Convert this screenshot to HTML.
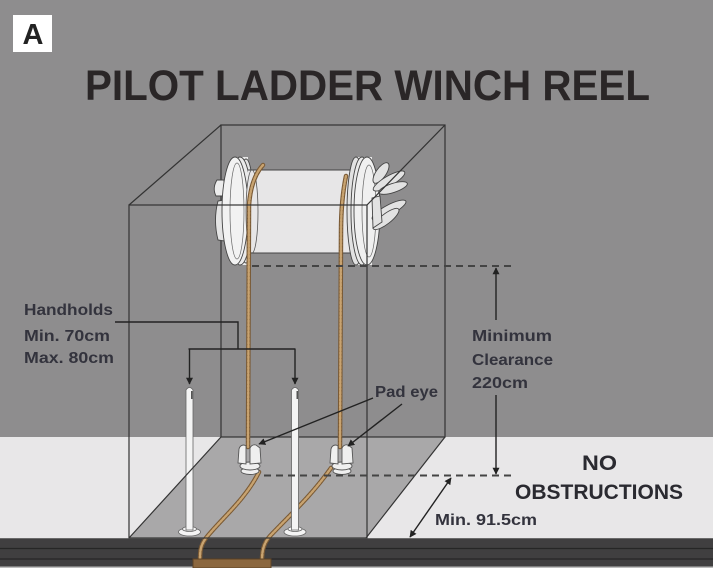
<!DOCTYPE html>
<html>
<head>
<meta charset="utf-8">
<style>
  html,body{margin:0;padding:0;background:#8e8d8e;}
  svg{display:block;}
  text{font-family:"Liberation Sans",sans-serif;}
</style>
</head>
<body>
<svg width="713" height="568" viewBox="0 0 713 568" xmlns="http://www.w3.org/2000/svg">
  <defs>
    <marker id="ah" viewBox="0 0 10 10" refX="9" refY="5" markerWidth="7" markerHeight="7" orient="auto-start-reverse" markerUnits="userSpaceOnUse">
      <path d="M0,0 L10,5 L0,10 Z" fill="#222"/>
    </marker>
  </defs>

  <rect x="0" y="0" width="713" height="568" fill="#8e8d8e"/>
  <rect x="0" y="437" width="713" height="101" fill="#e8e7e8"/>
  <polygon points="221,437 445,437 366,538 129,538" fill="#a9a8a9"/>
  <rect x="0" y="538" width="713" height="30" fill="#403f40"/>
  <line x1="0" y1="538.5" x2="713" y2="538.5" stroke="#6a6a6a" stroke-width="1"/>
  <line x1="0" y1="548.5" x2="713" y2="548.5" stroke="#262626" stroke-width="1.2"/>
  <line x1="0" y1="559" x2="713" y2="559" stroke="#262626" stroke-width="1.2"/>
  <rect x="0" y="566.5" width="713" height="1.5" fill="#bdbdbd"/>

  <rect x="221" y="125" width="224" height="312" fill="none" stroke="#333" stroke-width="1.2"/>

  <rect x="13" y="15" width="39" height="37" fill="#ffffff"/>
  <text x="33" y="44" font-size="29" font-weight="bold" fill="#222" text-anchor="middle">A</text>

  <text x="85" y="100" font-size="43" font-weight="bold" fill="#2a2627" textLength="565" lengthAdjust="spacingAndGlyphs">PILOT LADDER WINCH REEL</text>

  <!-- REEL -->
  <path d="M224,180 L217,180 Q212,188 216,196 L224,196 Z" fill="#ececec" stroke="#444" stroke-width="0.9"/>
  <path d="M224,200 L218,201 Q213,220 218,240 L224,241 Z" fill="#e4e4e4" stroke="#444" stroke-width="0.9"/>
  <rect x="234" y="157" width="14" height="108" fill="#e9e9e9"/>
  <ellipse cx="246" cy="211" rx="8" ry="52" fill="#e2e2e2" stroke="#444" stroke-width="0.9"/>
  <ellipse cx="240" cy="211" rx="12" ry="54" fill="#eaeaea" stroke="#444" stroke-width="0.9"/>
  <ellipse cx="235" cy="211" rx="13" ry="54" fill="#f2f2f2" stroke="#444" stroke-width="0.9"/>
  <ellipse cx="237" cy="211" rx="7" ry="48" fill="none" stroke="#666" stroke-width="0.7"/>
  <rect x="248" y="170" width="104" height="83" fill="#e7e6e7"/>
  <line x1="248" y1="170" x2="352" y2="170" stroke="#444" stroke-width="1"/>
  <line x1="248" y1="253" x2="352" y2="253" stroke="#444" stroke-width="1"/>
  <ellipse cx="252" cy="211.5" rx="6" ry="41.5" fill="#e7e6e7" stroke="#555" stroke-width="0.8"/>
  <rect x="354" y="157" width="18" height="108" fill="#e9e9e9"/>
  <ellipse cx="356" cy="211" rx="9" ry="54" fill="#e2e2e2" stroke="#444" stroke-width="0.9"/>
  <ellipse cx="362" cy="211" rx="11" ry="54" fill="#eaeaea" stroke="#444" stroke-width="0.9"/>
  <ellipse cx="367" cy="211" rx="13" ry="54" fill="#f0f0f0" stroke="#444" stroke-width="0.9"/>
  <ellipse cx="369" cy="211" rx="7" ry="46" fill="none" stroke="#666" stroke-width="0.7"/>
  <g fill="#e2e2e2" stroke="#444" stroke-width="0.9">
    <ellipse cx="381" cy="173" rx="12" ry="5" transform="rotate(-55 381 173)"/>
    <ellipse cx="389" cy="181" rx="18" ry="5" transform="rotate(-30 389 181)"/>
    <ellipse cx="393" cy="188" rx="15" ry="4.5" transform="rotate(-18 393 188)"/>
    <ellipse cx="389" cy="210" rx="19" ry="5" transform="rotate(-28 389 210)"/>
    <ellipse cx="386" cy="219" rx="16" ry="5" transform="rotate(-38 386 219)"/>
    <path d="M372,198 L380,196 L382,222 L373,228 Z"/>
  </g>

  <g fill="none" stroke-linecap="round">
    <path d="M263,165 Q251,178 249,205 L248,447" stroke="#7a5a35" stroke-width="4.5"/>
    <path d="M263,165 Q251,178 249,205 L248,447" stroke="#c8a370" stroke-width="2.4" stroke-dasharray="2 1.6"/>
    <path d="M346,176 Q341,200 341,232 L340,447" stroke="#7a5a35" stroke-width="4.5"/>
    <path d="M346,176 Q341,200 341,232 L340,447" stroke="#c8a370" stroke-width="2.4" stroke-dasharray="2 1.6"/>
    <path d="M259,472 C245,500 222,518 206,538 C200,546 200,552 200,561" stroke="#7a5a35" stroke-width="4.5"/>
    <path d="M259,472 C245,500 222,518 206,538 C200,546 200,552 200,561" stroke="#c8a370" stroke-width="2.4" stroke-dasharray="2 1.6"/>
    <path d="M331,468 C312,495 290,515 270,536 C263,544 262,552 262,561" stroke="#7a5a35" stroke-width="4.5"/>
    <path d="M331,468 C312,495 290,515 270,536 C263,544 262,552 262,561" stroke="#c8a370" stroke-width="2.4" stroke-dasharray="2 1.6"/>
  </g>
  <rect x="193" y="559" width="78" height="9" fill="#8b673f" stroke="#5e4326" stroke-width="1"/>

  <g stroke="#555" stroke-width="0.9" fill="#efefef">
    <ellipse cx="250" cy="471" rx="9" ry="3.5"/>
    <ellipse cx="250" cy="466" rx="10" ry="4"/>
    <path d="M238,463 L239,449 Q240,445 244,445 L246,446 L246,464 Z"/>
    <path d="M250,464 L250,448 Q252,444 256,445 L260,448 L261,463 Z"/>
  </g>
  <g stroke="#555" stroke-width="0.9" fill="#efefef">
    <ellipse cx="342" cy="471" rx="9" ry="3.5"/>
    <ellipse cx="342" cy="466" rx="10" ry="4"/>
    <path d="M330,463 L331,449 Q332,445 336,445 L338,446 L338,464 Z"/>
    <path d="M342,464 L342,448 Q344,444 348,445 L352,448 L353,463 Z"/>
  </g>

  <g stroke="#666" stroke-width="0.8" fill="#f4f4f4">
    <ellipse cx="189.5" cy="532" rx="11" ry="4"/>
    <ellipse cx="189.5" cy="529" rx="7" ry="2.5"/>
    <path d="M186,530 L186,390 Q189.5,385 193,390 L193,530 Z"/>
    <ellipse cx="295" cy="532" rx="11" ry="4"/>
    <ellipse cx="295" cy="529" rx="7" ry="2.5"/>
    <path d="M291.5,530 L291.5,390 Q295,385 298.5,390 L298.5,530 Z"/>
  </g>
  <rect x="191" y="391" width="1.6" height="8" fill="#555"/>
  <rect x="296.5" y="391" width="1.6" height="8" fill="#555"/>

  <g stroke="#333" stroke-width="1.2" fill="none">
    <rect x="129" y="205" width="238" height="333"/>
    <line x1="129" y1="205" x2="221" y2="125"/>
    <line x1="367" y1="205" x2="445" y2="125"/>
    <line x1="129" y1="538" x2="221" y2="437"/>
    <line x1="366" y1="538" x2="445" y2="437"/>
  </g>

  <g stroke="#444" stroke-width="2" stroke-dasharray="7 5">
    <line x1="252" y1="266" x2="514" y2="266"/>
    <line x1="264" y1="475.5" x2="514" y2="475.5"/>
  </g>

  <g stroke="#222" stroke-width="1.4" fill="none">
    <line x1="496" y1="320" x2="496" y2="268" marker-end="url(#ah)"/>
    <line x1="496" y1="395" x2="496" y2="474" marker-end="url(#ah)"/>
    <line x1="451" y1="478" x2="410" y2="537" marker-start="url(#ah)" marker-end="url(#ah)"/>
    <line x1="373" y1="398" x2="259" y2="444" marker-end="url(#ah)"/>
    <line x1="402" y1="404" x2="348" y2="446" marker-end="url(#ah)"/>
    <polyline points="115,322 238,322 238,349"/>
    <line x1="188.5" y1="349" x2="295.5" y2="349"/>
    <line x1="189.5" y1="349" x2="189.5" y2="384" marker-end="url(#ah)"/>
    <line x1="295" y1="349" x2="295" y2="384" marker-end="url(#ah)"/>
  </g>

  <g fill="#33333d" font-size="16" font-weight="bold">
    <text x="24" y="315" textLength="89" lengthAdjust="spacingAndGlyphs">Handholds</text>
    <text x="24" y="341" textLength="86" lengthAdjust="spacingAndGlyphs">Min. 70cm</text>
    <text x="24" y="363" textLength="90" lengthAdjust="spacingAndGlyphs">Max. 80cm</text>
    <text x="472" y="341" textLength="80" lengthAdjust="spacingAndGlyphs">Minimum</text>
    <text x="472" y="365" textLength="81" lengthAdjust="spacingAndGlyphs">Clearance</text>
    <text x="472" y="388" textLength="56" lengthAdjust="spacingAndGlyphs">220cm</text>
    <text x="375" y="397" textLength="63" lengthAdjust="spacingAndGlyphs">Pad eye</text>
    <text x="435" y="525" textLength="102" lengthAdjust="spacingAndGlyphs">Min. 91.5cm</text>
  </g>
  <g fill="#2a2a30" font-size="21" font-weight="bold">
    <text x="582" y="470" textLength="35" lengthAdjust="spacingAndGlyphs">NO</text>
    <text x="515" y="499" textLength="168" lengthAdjust="spacingAndGlyphs">OBSTRUCTIONS</text>
  </g>
</svg>
</body>
</html>
